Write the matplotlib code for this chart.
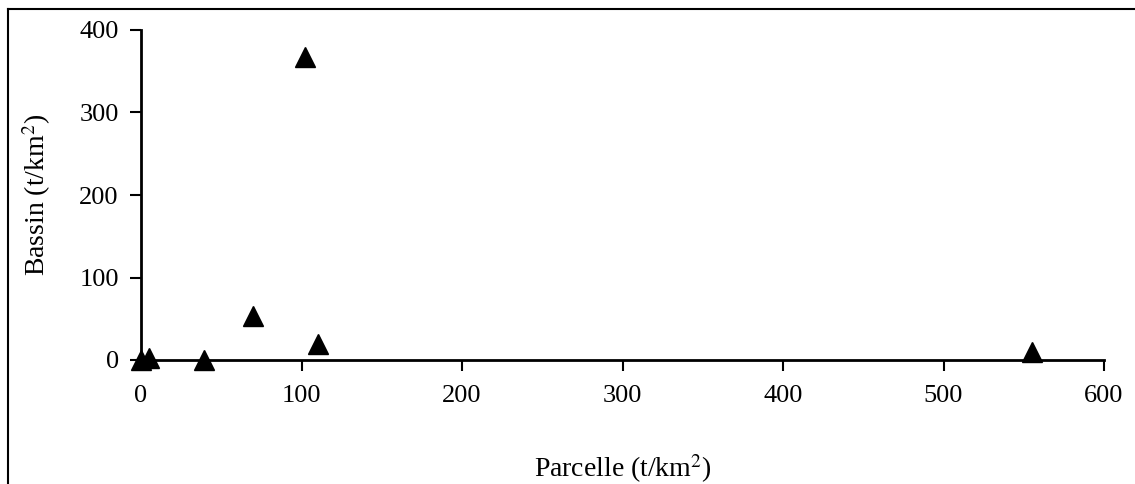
import matplotlib.pyplot as plt
from matplotlib.lines import Line2D

# Données
parcelle = [0, 5, 39, 70, 102, 110, 555]
bassin = [0, 3, 0, 53, 367, 19, 10]

x_ticks = [0, 100, 200, 300, 400, 500, 600]
y_ticks = [0, 100, 200, 300, 400]

plt.rcParams['font.family'] = ['Liberation Serif', 'DejaVu Serif']
plt.rcParams['mathtext.fontset'] = 'stix'

W, H = 1135, 484
fig = plt.figure(figsize=(W / 100, H / 100), dpi=100)
ax = fig.add_axes([141 / W, 1 - 360 / H, (1104 - 141) / W, (360 - 30) / H])

ax.plot(parcelle, bassin, linestyle='none', marker='^', markersize=15,
        color='black', clip_on=False, zorder=3)

ax.set_xlim(0, 600)
ax.set_ylim(0, 400)
ax.set_xticks(x_ticks)
ax.set_yticks(y_ticks)
ax.tick_params(direction='out', length=8, width=1.5, labelsize=19, pad=8)
ax.tick_params(axis='x', pad=10)

for s in ['top', 'right']:
    ax.spines[s].set_visible(False)
for s in ['left', 'bottom']:
    ax.spines[s].set_linewidth(2)

ax.set_xlabel('Parcelle (t/km$^2$)', fontsize=20, labelpad=33)
ax.set_ylabel('Bassin (t/km$^2$)', fontsize=20, labelpad=19)

# cadre (seulement haut et gauche visibles)
fig.lines.append(Line2D([8 / W, 1], [1 - 9 / H, 1 - 9 / H], transform=fig.transFigure,
                        color='black', linewidth=1.5))
fig.lines.append(Line2D([8 / W, 8 / W], [0, 1 - 9 / H], transform=fig.transFigure,
                        color='black', linewidth=1.5))

fig.savefig('out.png', dpi=100)
